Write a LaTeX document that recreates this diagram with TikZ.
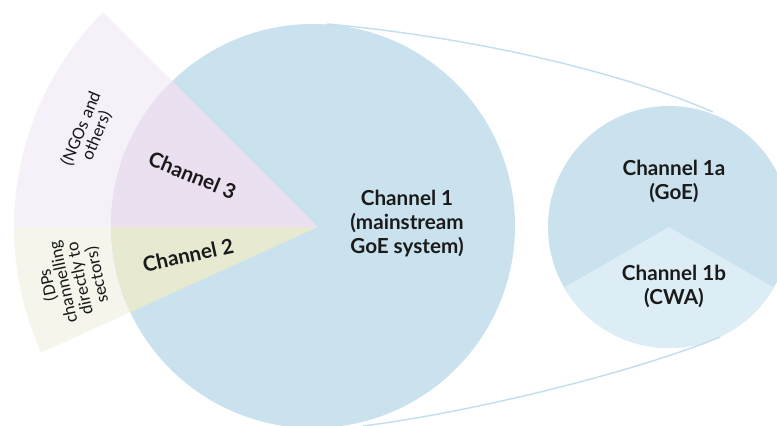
\documentclass[tikz,border=0pt]{standalone}
\usepackage{fontspec}
\setmainfont{Lato}
\newfontfamily\sidefont{Carlito}
\definecolor{chblue}{HTML}{C9E2EE}
\definecolor{chbluelight}{HTML}{DDEDF5}
\definecolor{purpleout}{HTML}{F6F1F8}
\definecolor{purplein}{HTML}{EBE0F0}
\definecolor{greenout}{HTML}{F5F5EC}
\definecolor{greenin}{HTML}{E7EAD1}
\definecolor{linkblue}{HTML}{C3DFEE}
\definecolor{inktext}{HTML}{1A1A1A}
\tikzset{
  maintext/.style={font=\fontsize{15.5}{18}\selectfont\bfseries, text=inktext, align=center, inner sep=0pt},
  sidetext/.style={font=\sidefont\fontsize{13.5}{11.6}\selectfont, text=inktext, align=center, inner sep=0pt},
  link/.style={draw=linkblue, line width=1.1pt}
}
\begin{document}
\begin{tikzpicture}[x=0.75pt,y=0.75pt]
\useasboundingbox (0,0) rectangle (777,-425);

% centres of the main circle, the fan apex and the detail circle
\coordinate (big) at (313,-226);
\coordinate (apex) at (318,-227);
\coordinate (small) at (669,-227);

% outer fan segments
\fill[purpleout] (apex) -- ++(135:304) arc[start angle=135, end angle=180, radius=304] -- cycle;
\fill[greenout] (apex) -- ++(180:304) arc[start angle=180, end angle=204.4, radius=304] -- cycle;

% main circle
\fill[chblue] (big) circle[radius=202];

% fan segments inside the main circle
\begin{scope}
  \clip (big) circle[radius=202];
  \fill[purplein] (apex) -- ++(135:304) arc[start angle=135, end angle=180, radius=304] -- cycle;
  \fill[greenin] (apex) -- ++(180:304) arc[start angle=180, end angle=204.4, radius=304] -- cycle;
\end{scope}

% detail circle with its lower sector
\fill[chblue] (small) circle[radius=121];
\fill[chbluelight] (small) -- ++(210:121) arc[start angle=210, end angle=330, radius=121] -- cycle;

% links between the two circles
\coordinate (bigtop) at (327,-24);
\coordinate (smalltop) at (713,-112);
\coordinate (bigbot) at (363,-426);
\coordinate (smallbot) at (720,-337);
\draw[link] (bigtop) .. controls (500,-40) and (640,-80) .. (smalltop);
\draw[link] (bigbot) .. controls (480,-411) and (640,-370) .. (smallbot);

% labels
\node[maintext] (ch1) at (407,-224) {Channel 1\\(mainstream\\GoE system)};
\node[maintext, rotate=-22.5] (ch3) at ([shift={(157.5:136)}]apex) {Channel 3};
\node[maintext, rotate=12.2] (ch2) at ([shift={(192.2:133)}]apex) {Channel 2};
\node[sidetext, rotate=67.5] (ngo) at ([shift={(157.5:248)}]apex) {(NGOs and\\others)};
\node[sidetext, rotate=102.2] (dps) at ([shift={(192.2:251)}]apex) {(DPs\\channelling\\directly to\\sectors)};
\node[maintext] (ch1a) at (674,-181) {Channel 1a\\(GoE)};
\node[maintext] (ch1b) at (674,-286) {Channel 1b\\(CWA)};
\end{tikzpicture}
\end{document}
